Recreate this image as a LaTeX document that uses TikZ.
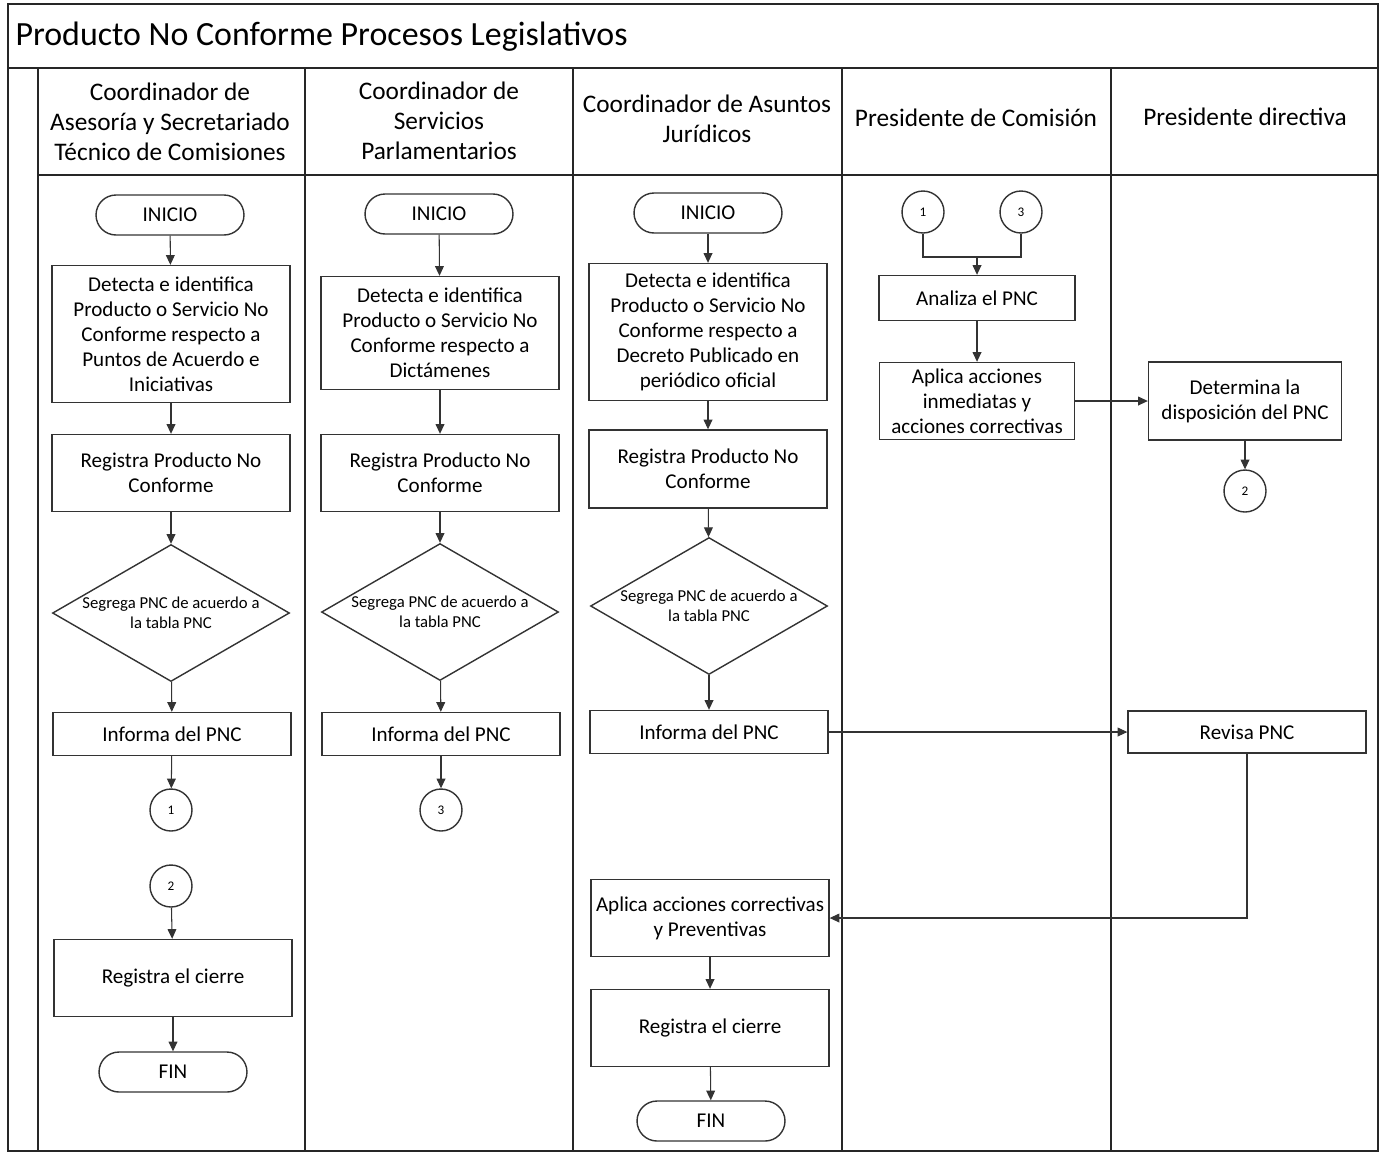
\documentclass[tikz,border=0pt]{standalone}
\usepackage{fontspec}
\setmainfont{Carlito}
\usetikzlibrary{arrows.meta,positioning,shapes.geometric,calc}

\begin{document}
\begin{tikzpicture}[x=0.02cm, y=-0.02cm, line width=0.6pt,
  frame/.style={draw=black!85, line width=0.9pt},
  box/.style={draw=black!80, line width=0.8pt, minimum width=4.76cm, align=center, inner sep=2pt, font=\fontsize{12}{14.2}\selectfont},
  term/.style={draw=black!80, line width=0.8pt, rounded corners=0.4cm, minimum width=2.96cm, minimum height=0.8cm, font=\fontsize{12}{14.2}\selectfont},
  decide/.style={draw=black!80, line width=0.8pt, diamond, aspect=1.73, minimum width=4.74cm, minimum height=2.74cm, inner sep=-0.1cm, align=center, font=\fontsize{9.5}{11.4}\selectfont},
  conn/.style={draw=black!80, line width=0.8pt, circle, minimum size=0.84cm, inner sep=0pt, font=\fontsize{7.5}{9}\selectfont},
  lane/.style={align=center, font=\fontsize{14.4}{17}\selectfont},
  arr/.style={-{Triangle[length=5.5pt,width=5pt]}, draw=black!80}]
  \useasboundingbox (0,0) rectangle (1388,1154);

  % Frame and lanes
  \draw[frame] (8,4) rectangle (1378,1151);
  \draw[frame] (8,68) -- (1378,68);
  \draw[frame] (38,175) -- (1378,175);
  \foreach \lx in {38,305,573,842,1111} {
    \draw[frame] (\lx,68) -- (\lx,1151);
  }

  % Title
  \node[anchor=west, inner sep=0pt, font=\fontsize{19.3}{22}\selectfont] (title) at (15,37) {Producto No Conforme Procesos Legislativos};

  % Lane headers
  \node[lane] (h1) at (170,122) {Coordinador de\\Asesoría y Secretariado\\Técnico de Comisiones};
  \node[lane] (h2) at (439,121) {Coordinador de\\Servicios\\Parlamentarios};
  \node[lane] (h3) at (707,119) {Coordinador de Asuntos\\Jurídicos};
  \node[lane] (h4) at (976,118) {Presidente de Comisión};
  \node[lane] (h5) at (1245,117) {Presidente directiva};

  % Asesoria lane
  \node[term] (ini1) at (170,215) {INICIO};
  \node[box, minimum height=2.74cm] (det1) at (171,334) {Detecta e identifica\\Producto o Servicio No\\Conforme respecto a\\Puntos de Acuerdo e\\Iniciativas};
  \node[box, minimum height=1.54cm] (reg1) at (171,473) {Registra Producto No\\Conforme};
  \node[decide] (seg1) at (171,613) {Segrega PNC de acuerdo a\\la tabla PNC};
  \node[box, minimum height=0.86cm] (inf1) at (172,734) {Informa del PNC};
  \node[conn] (c1a) at (171,810) {1};
  \node[conn] (c2a) at (171,886) {2};
  \node[box, minimum height=1.54cm] (cie1) at (173,978) {Registra el cierre};
  \node[term] (fin1) at (173,1072) {FIN};

  % Servicios lane
  \node[term] (ini2) at (439,214) {INICIO};
  \node[box, minimum height=2.26cm] (det2) at (440,333) {Detecta e identifica\\Producto o Servicio No\\Conforme respecto a\\Dictámenes};
  \node[box, minimum height=1.54cm] (reg2) at (440,473) {Registra Producto No\\Conforme};
  \node[decide] (seg2) at (440,612) {Segrega PNC de acuerdo a\\la tabla PNC};
  \node[box, minimum height=0.86cm] (inf2) at (441,734) {Informa del PNC};
  \node[conn] (c3a) at (441,810) {3};

  % Juridicos lane
  \node[term] (ini3) at (708,213) {INICIO};
  \node[box, minimum height=2.74cm] (det3) at (708,332) {Detecta e identifica\\Producto o Servicio No\\Conforme respecto a\\Decreto Publicado en\\periódico oficial};
  \node[box, minimum height=1.56cm] (reg3) at (708,469) {Registra Producto No\\Conforme};
  \node[decide] (seg3) at (709,606) {Segrega PNC de acuerdo a\\la tabla PNC};
  \node[box, minimum height=0.86cm] (inf3) at (709,732) {Informa del PNC};
  \node[box, minimum height=1.54cm] (apc) at (710,918) {Aplica acciones correctivas\\y Preventivas};
  \node[box, minimum height=1.54cm] (cie3) at (710,1028) {Registra el cierre};
  \node[term] (fin3) at (711,1121) {FIN};

  % Comision lane
  \node[conn] (c1b) at (923,212) {1};
  \node[conn] (c3b) at (1021,212) {3};
  \coordinate (jn) at (977,257);
  \node[box, minimum width=3.92cm, minimum height=0.9cm] (ana) at (977,298) {Analiza el PNC};
  \node[box, minimum width=3.9cm, minimum height=1.54cm] (api) at (977,401) {Aplica acciones\\inmediatas y\\acciones correctivas};

  % Directiva lane
  \node[box, minimum width=3.86cm, minimum height=1.56cm] (det5) at (1245,401) {Determina la\\disposición del PNC};
  \node[conn] (c2b) at (1245,491) {2};
  \node[box, minimum height=0.84cm] (rev) at (1247,732) {Revisa PNC};

  % Arrows
  \draw[arr] (ini1) -- (det1);
  \draw[arr] (det1) -- (reg1);
  \draw[arr] (reg1) -- (seg1);
  \draw[arr] (seg1) -- (inf1);
  \draw[arr] (inf1) -- (c1a);
  \draw[arr] (c2a) -- (cie1);
  \draw[arr] (cie1) -- (fin1);

  \draw[arr] (ini2) -- (det2);
  \draw[arr] (det2) -- (reg2);
  \draw[arr] (reg2) -- (seg2);
  \draw[arr] (seg2) -- (inf2);
  \draw[arr] (inf2) -- (c3a);

  \draw[arr] (ini3) -- (det3);
  \draw[arr] (det3) -- (reg3);
  \draw[arr] (reg3) -- (seg3);
  \draw[arr] (seg3) -- (inf3);
  \draw[arr] (inf3) -- (rev);
  \draw[arr] (apc) -- (cie3);
  \draw[arr] (cie3) -- (fin3);

  \draw[draw=black!80] (c1b.south) |- (jn);
  \draw[draw=black!80] (c3b.south) |- (jn);
  \draw[arr] (jn) -- (ana.north);
  \draw[arr] (ana) -- (api);
  \draw[arr] (api) -- (det5);
  \draw[arr] (det5) -- (c2b);
  \draw[arr] (rev.south) |- (apc.east);
\end{tikzpicture}
\end{document}
